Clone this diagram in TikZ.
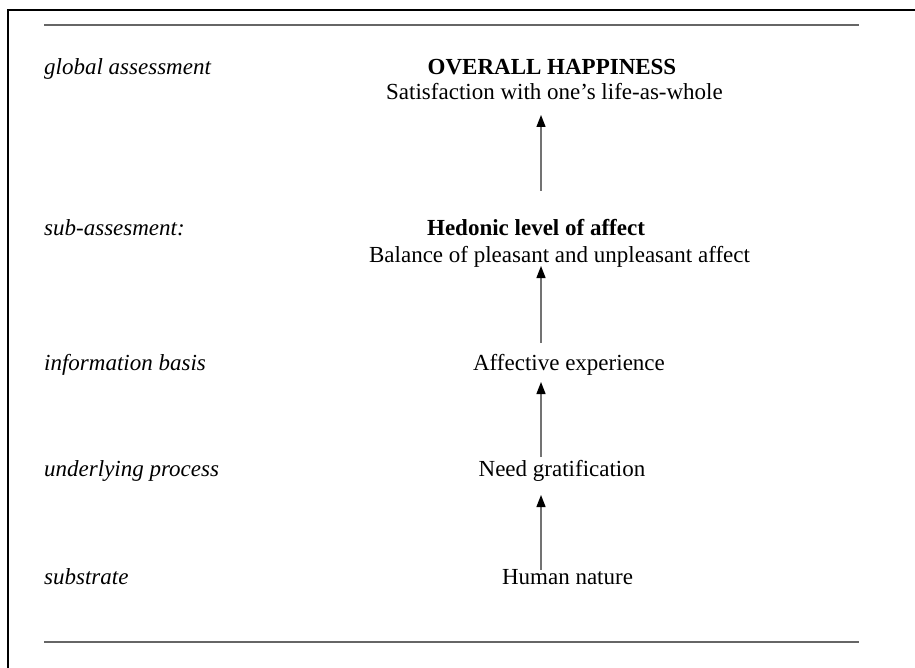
\documentclass[tikz,border=0pt]{standalone}
\usepackage{fontspec}
\setmainfont{Liberation Serif}
\usetikzlibrary{arrows.meta}
\begin{document}
\begin{tikzpicture}[x=1pt,y=-1pt,
  txt/.style={anchor=base,inner sep=0pt,font=\fontsize{23}{27}\selectfont},
  lbl/.style={anchor=base west,inner sep=0pt,font=\fontsize{23}{27}\selectfont\itshape},
  rulebar/.style={draw=black!60,line width=1.5pt},
  uparrow/.style={draw=black!55,line width=1.3pt,-{Triangle[length=12pt,width=9pt,color=black]}}]
\useasboundingbox (0,0) rectangle (915,668);
% frame (left and top edges)
\draw[line width=2pt] (8,668) -- (8,10) -- (915,10);
% rules
\draw[rulebar] (44,25) -- (859,25);
\draw[rulebar] (44,642) -- (859,642);
% left labels
\node[lbl] (l1) at (44,75) {global assessment};
\node[lbl] (l2) at (44,236) {sub-assesment:};
\node[lbl] (l3) at (44,370) {information basis};
\node[lbl] (l4) at (44,476) {underlying process};
\node[lbl] (l5) at (44,584) {substrate};
% center texts
\node[txt,font=\fontsize{23}{27}\selectfont\bfseries] (oh) at (552,75) {OVERALL HAPPINESS};
\node[txt] (sat) at (554.5,100) {Satisfaction with one’s life-as-whole};
\node[txt,font=\fontsize{23}{27}\selectfont\bfseries] (hed) at (536,236) {Hedonic level of affect};
\node[txt] (bal) at (559.5,262) {Balance of pleasant and unpleasant affect};
\node[txt] (aff) at (569,370) {Affective experience};
\node[txt] (need) at (562,476) {Need gratification};
\node[txt] (hum) at (567.5,584) {Human nature};
% arrow end points
\coordinate (a1t) at (541,191); \coordinate (a1h) at (541,115);
\coordinate (a2t) at (541,343); \coordinate (a2h) at (541,266);
\coordinate (a3t) at (541,457); \coordinate (a3h) at (541,382);
\coordinate (a4t) at (541,570); \coordinate (a4h) at (541,495);
\draw[uparrow] (a1t) -- (a1h);
\draw[uparrow] (a2t) -- (a2h);
\draw[uparrow] (a3t) -- (a3h);
\draw[uparrow] (a4t) -- (a4h);
\end{tikzpicture}
\end{document}
